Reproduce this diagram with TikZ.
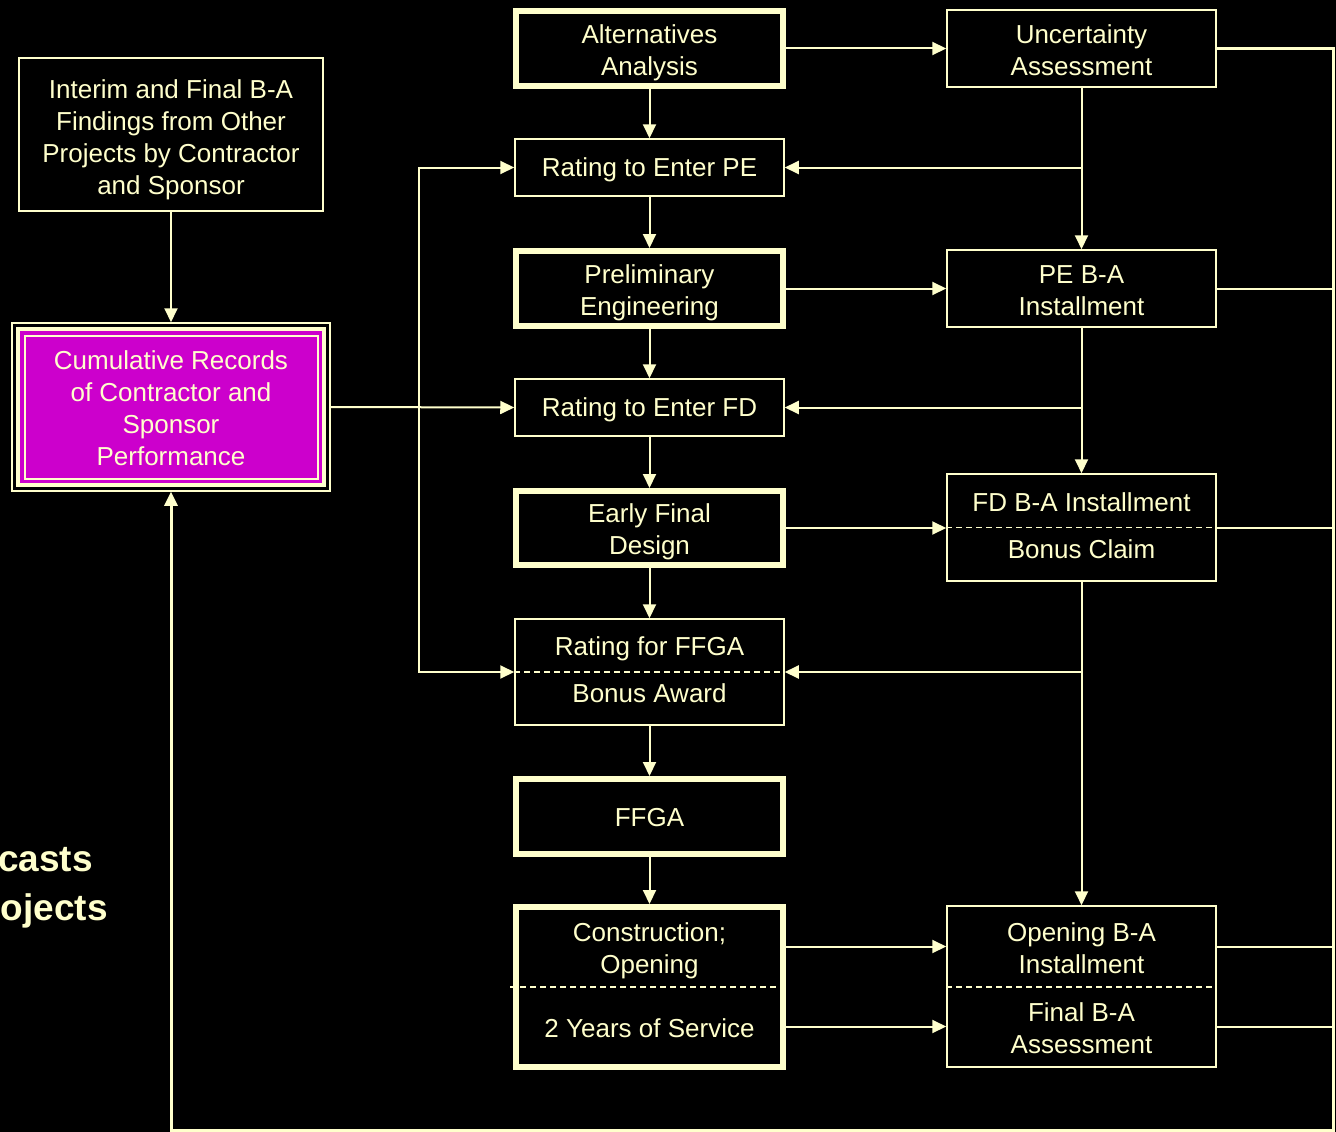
\documentclass[tikz,border=0pt]{standalone}
\usepackage{fontspec}
\setmainfont{Liberation Sans}
\usetikzlibrary{arrows.meta}
\definecolor{cream}{HTML}{FFFFCC}
\definecolor{mag}{HTML}{CC00CC}
\begin{document}
\begin{tikzpicture}[x=1pt,y=-1pt,
 every node/.style={text=cream, font=\fontsize{26}{32}\selectfont, align=center, inner sep=0pt},
 thickbox/.style={draw=cream, line width=6pt, fill=black, minimum width=267pt, minimum height=75pt},
 thinbox/.style={draw=cream, line width=1.5pt, fill=black, minimum width=269pt, minimum height=57pt},
 rbox/.style={draw=cream, line width=1.5pt, fill=black, minimum width=269pt, minimum height=77pt},
 arr/.style={draw=cream, line width=2pt, -{Triangle[length=14pt,width=13pt]}},
 ln/.style={draw=cream, line width=2pt},
 loopln/.style={draw=cream, line width=3pt, -{Triangle[length=14pt,width=13pt]}},
 dsh/.style={draw=cream, line width=1.5pt, dash pattern=on 6pt off 4pt}]
\fill[black] (0,0) rectangle (1336,1132);
\useasboundingbox (0,0) rectangle (1336,1132);

% left column
\node[draw=cream, line width=1.5pt, minimum width=304pt, minimum height=153pt] (interim) at (171,134.5) {};
\node (interimT) at (171,140) {Interim and Final B-A\\Findings from Other\\Projects by Contractor\\and Sponsor};
\node[draw=cream, line width=1.5pt, fill=black, minimum width=318pt, minimum height=168pt] (cum) at (171,407) {};
\fill[cream] (16,327) rectangle (326,487);
\fill[mag] (20,331) rectangle (322,483);
\draw[cream, line width=2pt, fill=mag] (24.5,335.5) rectangle (317.5,478.5);
\node (cumtext) at (171,408) {Cumulative Records\\of Contractor and\\Sponsor\\Performance};

\node[font=\bfseries\fontsize{37}{44}\selectfont, anchor=base east] (lt1) at (93,871) {casts};
\node[font=\bfseries\fontsize{37}{44}\selectfont, anchor=base east] (lt2) at (108,920) {ojects};

% center column
\node[thickbox] (alt) at (649.5,48.5) {};
\node (altT) at (649.5,52.5) {Alternatives\\Analysis};
\node[thinbox] (rpe) at (649.5,167.5) {};
\node (rpeT) at (649.5,169.5) {Rating to Enter PE};
\node[thickbox] (pe) at (649.5,288.5) {};
\node (peT) at (649.5,292.5) {Preliminary\\Engineering};
\node[thinbox] (rfd) at (649.5,407.5) {};
\node (rfdT) at (649.5,410) {Rating to Enter FD};
\node[thickbox, minimum height=74pt] (efd) at (649.5,528) {};
\node (efdT) at (649.5,532) {Early Final\\Design};
\node[thinbox, minimum height=106pt] (rffga) at (649.5,672) {};
\node (rffga1) at (649.5,649) {Rating for FFGA};
\node (rffga2) at (649.5,693) {Bonus Award};
\draw[dsh] (rffga.west) -- (rffga.east);
\node[thickbox] (ffga) at (649.5,816.5) {};
\node (ffgaT) at (649.5,817.5) {FFGA};
\node[thickbox, minimum height=160pt] (cons) at (649.5,987) {};
\node (cons1) at (649.5,951) {Construction;\\Opening};
\node (cons2) at (649.5,1028) {2 Years of Service};
\draw[dsh] ([xshift=-3pt]cons.west) -- ([xshift=2pt]cons.east);

% right column
\node[rbox] (unc) at (1081.5,48.5) {};
\node (uncT) at (1081.5,50.5) {Uncertainty\\Assessment};
\node[rbox] (peba) at (1081.5,288.5) {};
\node (pebaT) at (1081.5,290.5) {PE B-A\\Installment};
\node[rbox, minimum height=107pt] (fdba) at (1081.5,527.5) {};
\node (fdba1) at (1081.5,502) {FD B-A Installment};
\node (fdba2) at (1081.5,549) {Bonus Claim};
\draw[dsh] (fdba.west) -- (fdba.east);
\node[rbox, minimum height=161pt] (open) at (1081.5,986.5) {};
\node (open1) at (1081.5,948) {Opening B-A\\Installment};
\node (open2) at (1081.5,1028) {Final B-A\\Assessment};
\draw[dsh] (open.west |- cons.center) -- (open.east |- cons.center);

% coordinates
\coordinate (jl) at (419,407.5);
\coordinate (RT) at (1333.5,48.5);
\coordinate (RB) at (1333.5,1130.5);
\coordinate (yA) at (0,946.5);
\coordinate (yB) at (0,1026.5);

% connectors, left
\draw[arr] (interim) -- (cum);
\draw[arr] (cum.east) -- (rfd.west);
\draw[arr] (jl) |- (rpe.west);
\draw[arr] (jl) |- (rffga.west);

% center chain
\draw[arr] (alt) -- (rpe);
\draw[arr] (rpe) -- (pe);
\draw[arr] (pe) -- (rfd);
\draw[arr] (rfd) -- (efd);
\draw[arr] (efd) -- (rffga);
\draw[arr] (rffga) -- (ffga);
\draw[arr] (ffga) -- (cons);

% center to right
\draw[arr] (alt) -- (unc);
\draw[arr] (pe) -- (peba);
\draw[arr] (efd.east) -- (efd.east -| fdba.west);
\draw[arr] (yA -| cons.east) -- (yA -| open.west);
\draw[arr] (yB -| cons.east) -- (yB -| open.west);

% right chain with feedback
\draw[arr] (unc) -- (peba);
\draw[arr] (unc.south |- rpe.east) -- (rpe.east);
\draw[arr] (peba) -- (fdba);
\draw[arr] (peba.south |- rfd.east) -- (rfd.east);
\draw[arr] (fdba) -- (open);
\draw[arr] (fdba.south |- rffga.east) -- (rffga.east);

% right edge lines
\draw[ln] (peba.east) -- (peba.east -| RT);
\draw[ln] (fdba.east) -- (fdba.east -| RT);
\draw[ln] (yA -| open.east) -- (yA -| RT);
\draw[ln] (yB -| open.east) -- (yB -| RT);
\draw[loopln] (unc.east) -- (RT) -- (RB) -| (cum.south);
\end{tikzpicture}
\end{document}
